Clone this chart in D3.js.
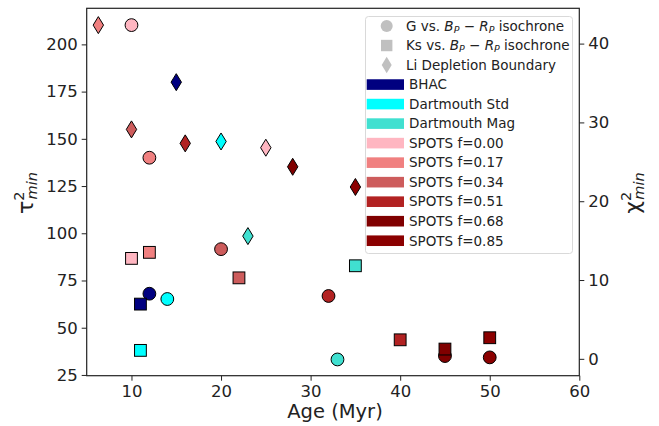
<!DOCTYPE html>
<html lang="en">
<head>
    <meta charset="UTF-8">
    <title>Age fits</title>
    <script src="https://d3js.org/d3.v7.min.js"></script>
    <style>
        body { margin: 0; background: #fff; }
        svg { font-family: "DejaVu Sans", sans-serif; }
    </style>
</head>
<body>
    <div id="chart"></div>
    <script>
        // model names and colours
        const models = ["BHAC", "Dartmouth Std", "Dartmouth Mag", "SPOTS f=0.00", "SPOTS f=0.17",
            "SPOTS f=0.34", "SPOTS f=0.51", "SPOTS f=0.68", "SPOTS f=0.85"];
        const colors = ["#000080", "#00ffff", "#40e0d0", "#ffb6c1", "#f08080",
            "#cd5c5c", "#b22222", "#800000", "#8b0000"];

        // G vs Bp-Rp isochrone (circles)
        const gAge = [12, 14, 33, 10, 12, 20, 32, 45, 50];
        const gTau = [68.0, 65.2, 33.2, 210.2, 140.0, 91.6, 66.8, 35.0, 34.3];
        // Ks vs Bp-Rp isochrone (squares)
        const ksAge = [11, 11, 35, 10, 12, 22, 40, 45, 50];
        const ksTau = [62.5, 38.0, 82.8, 86.7, 89.9, 76.4, 43.6, 38.7, 44.7];
        // Li depletion boundary (diamonds)
        const liAge = [15, 20, 23, 25, 6.3, 10, 16, 28, 35];
        const liTau = [180.0, 148.6, 98.5, 145.3, 210.2, 155.0, 147.6, 135.2, 124.5];

        const xTicks = [10, 20, 30, 40, 50, 60];
        const yTicks = [25, 50, 75, 100, 125, 150, 175, 200];
        const y2Ticks = [0, 10, 20, 30, 40];

        const width = 659, height = 426;
        const m = { left: 86.7, right: 579.3, top: 8.3, bottom: 375.7 };

        const svg = d3.select("#chart").append("svg")
            .attr("width", width)
            .attr("height", height);

        const x = d3.scaleLinear().domain([5, 60]).range([m.left, m.right]);
        const y = d3.scaleLinear().domain([24.6, 219.1]).range([m.bottom, m.top]);
        const y2 = d3.scaleLinear().domain([-2.14, 44.48]).range([m.bottom, m.top]);

        // axes
        const xAxis = svg.append("g")
            .attr("transform", `translate(0,${m.bottom})`)
            .call(d3.axisBottom(x).tickValues(xTicks).tickSize(5).tickPadding(5).tickSizeOuter(0));
        const yAxis = svg.append("g")
            .attr("transform", `translate(${m.left},0)`)
            .call(d3.axisLeft(y).tickValues(yTicks).tickSize(5).tickPadding(4).tickSizeOuter(0));
        const y2Axis = svg.append("g")
            .attr("transform", `translate(${m.right},0)`)
            .call(d3.axisRight(y2).tickValues(y2Ticks).tickSize(5).tickPadding(4).tickSizeOuter(0));

        [xAxis, yAxis, y2Axis].forEach(a => {
            a.select(".domain").remove();
            a.selectAll("line").attr("stroke", "#222").attr("stroke-width", 1);
            a.selectAll("text").attr("font-size", 16.5).attr("fill", "#222")
                .attr("font-family", "DejaVu Sans");
        });

        // frame
        svg.append("rect")
            .attr("x", m.left).attr("y", m.top)
            .attr("width", m.right - m.left).attr("height", m.bottom - m.top)
            .attr("fill", "none").attr("stroke", "#222").attr("stroke-width", 1.2);

        // axis labels
        svg.append("text")
            .attr("x", (m.left + m.right) / 2 + 2).attr("y", 418)
            .attr("text-anchor", "middle").attr("font-size", 19.5).attr("fill", "#222")
            .text("Age (Myr)");

        function sym(g, base, px, py) {
            const t = g.append("text")
                .attr("transform", `translate(${px},${py}) rotate(-90)`)
                .attr("text-anchor", "middle").attr("fill", "#222");
            t.append("tspan").attr("font-size", 22).text(base);
            t.append("tspan").attr("font-size", 14.5).attr("dy", -9).text("2");
            t.append("tspan").attr("font-size", 14.5).attr("font-style", "italic")
                .attr("dx", -8).attr("dy", 13).text("min");
        }
        sym(svg, "τ", 33, 193);
        sym(svg, "χ", 640, 193);

        // markers
        const dots = svg.append("g");
        const diamond = (w, h) => `M0,${-h}L${w},0L0,${h}L${-w},0Z`;

        models.forEach((name, i) => {
            dots.append("circle")
                .attr("cx", x(gAge[i])).attr("cy", y(gTau[i])).attr("r", 6.4)
                .attr("fill", colors[i]).attr("stroke", "#000").attr("stroke-width", 1);
            dots.append("rect")
                .attr("x", x(ksAge[i]) - 5.9).attr("y", y(ksTau[i]) - 5.9)
                .attr("width", 11.8).attr("height", 11.8)
                .attr("fill", colors[i]).attr("stroke", "#000").attr("stroke-width", 1);
            dots.append("path")
                .attr("transform", `translate(${x(liAge[i])},${y(liTau[i])})`)
                .attr("d", diamond(5.2, 8.5))
                .attr("fill", colors[i]).attr("stroke", "#000").attr("stroke-width", 1);
        });

        // legend
        const lg = svg.append("g");
        lg.append("rect")
            .attr("x", 365.5).attr("y", 16.5).attr("width", 207).attr("height", 237)
            .attr("rx", 3).attr("fill", "#fff").attr("fill-opacity", 0.8)
            .attr("stroke", "#d9d9d9").attr("stroke-width", 1);

        const rowY = i => 26 + i * 19.52;
        const textX = 406;
        const grey = "#c0c0c0";
        const fs = 13.5;

        lg.append("circle").attr("cx", 386.7).attr("cy", rowY(0)).attr("r", 6).attr("fill", grey);
        lg.append("rect").attr("x", 381).attr("y", rowY(1) - 5.7).attr("width", 11.4).attr("height", 11.4).attr("fill", grey);
        lg.append("path").attr("transform", `translate(386.7,${rowY(2)})`).attr("d", diamond(5, 8.3)).attr("fill", grey);

        function isoLabel(row, lead) {
            const t = lg.append("text").attr("x", textX).attr("y", rowY(row) + 4.8)
                .attr("font-size", fs).attr("fill", "#222");
            t.append("tspan").text(lead);
            t.append("tspan").attr("font-style", "italic").text("B");
            t.append("tspan").attr("font-style", "italic").attr("font-size", 9.5).attr("dy", 2).text("P");
            t.append("tspan").attr("dy", -2).text(" − ");
            t.append("tspan").attr("font-style", "italic").text("R");
            t.append("tspan").attr("font-style", "italic").attr("font-size", 9.5).attr("dy", 2).text("P");
            t.append("tspan").attr("dy", -2).text(" isochrone");
        }
        isoLabel(0, "G vs. ");
        isoLabel(1, "Ks vs. ");
        lg.append("text").attr("x", textX).attr("y", rowY(2) + 4.8)
            .attr("font-size", fs).attr("fill", "#222").text("Li Depletion Boundary");

        models.forEach((name, i) => {
            const r = i + 3;
            lg.append("rect")
                .attr("x", 366.7).attr("y", rowY(r) - 5.3)
                .attr("width", 37.3).attr("height", 10.6)
                .attr("fill", colors[i]);
            lg.append("text")
                .attr("x", 409).attr("y", rowY(r) + 4.8)
                .attr("font-size", fs).attr("fill", "#222")
                .text(name);
        });
    </script>
</body>
</html>
